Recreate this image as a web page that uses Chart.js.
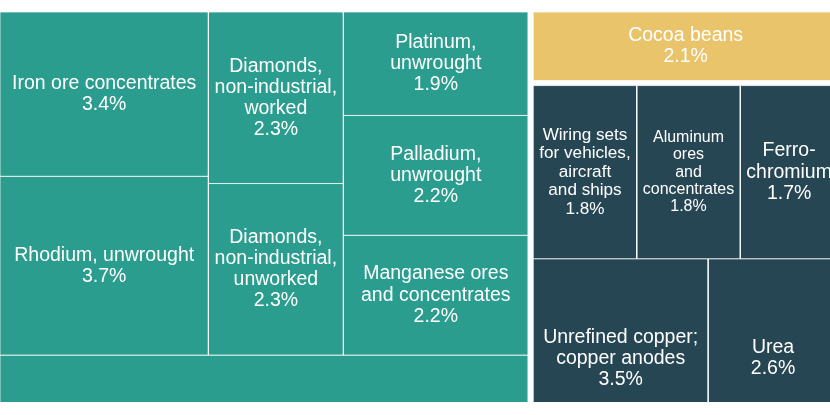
<!DOCTYPE html>
<html>
<head>
<meta charset="utf-8">
<script src="https://cdn.jsdelivr.net/npm/chart.js@4.4.0/dist/chart.umd.min.js"></script>
<style>
  html, body { margin: 0; padding: 0; background: #fff; }
  #wrap { width: 830px; height: 415px; }
</style>
</head>
<body>
<div id="wrap"><canvas id="treemap"></canvas></div>
<script>
// Treemap of export shares (%), drawn with filled scatter shapes
const products = [
  'Iron ore concentrates',
  'Rhodium, unwrought',
  'Diamonds,\nnon-industrial,\nworked',
  'Diamonds,\nnon-industrial,\nunworked',
  'Platinum,\nunwrought',
  'Palladium,\nunwrought',
  'Manganese ores\nand concentrates',
  '',   // bottom strip, its label falls outside the visible part
  'Cocoa beans',
  'Wiring sets\nfor vehicles,\naircraft\nand ships',
  'Aluminum\nores\nand\nconcentrates',
  'Ferro-\nchromium',
  'Unrefined copper;\ncopper anodes',
  'Urea'
];
const shares = [3.4, 3.7, 2.3, 2.3, 1.9, 2.2, 2.2, 5.4, 2.1, 1.8, 1.8, 1.7, 3.5, 2.6];
const sectorOf = [0, 0, 0, 0, 0, 0, 0, 0, 1, 2, 2, 2, 2, 2];
const sectorColors = ['#2a9d8f', '#e9c46a', '#264653'];

// nesting of the cells (indexes into products)
const mineralColumns = [[0, 1], [2, 3], [4, 5, 6]];
const mineralStrip = 7;
const cocoa = 8;
const otherRows = [[9, 10, 11], [12, 13]];

// full treemap size and the part of it that is shown
const TREE_W = 838, TREE_H = 446, GAP = 5;
const VIEW_X = [0, 830], VIEW_Y = [0, 390];

const sum = idx => idx.reduce((a, i) => a + shares[i], 0);

// cut a box along x or y in proportion to totals
function split(box, totals, horizontal, gap = 0) {
  const total = totals.reduce((a, b) => a + b, 0);
  const len = (horizontal ? box.w : box.h) - gap * (totals.length - 1);
  let pos = horizontal ? box.x : box.y;
  return totals.map(t => {
    const size = len * t / total;
    const b = horizontal
      ? {x: pos, y: box.y, w: size, h: box.h}
      : {x: box.x, y: pos, w: box.w, h: size};
    pos += size + gap;
    return b;
  });
}

const rects = [];
const colsTotal = sum(mineralColumns.flat());
const darkTotal = sum(otherRows.flat());

const [mineralBox, rightBox] = split({x: 0, y: 0, w: TREE_W, h: TREE_H},
  [colsTotal + shares[mineralStrip], shares[cocoa] + darkTotal], true, GAP);

const [colsBox, stripBox] = split(mineralBox, [colsTotal, shares[mineralStrip]], false);
split(colsBox, mineralColumns.map(sum), true).forEach((colBox, c) => {
  split(colBox, mineralColumns[c].map(i => shares[i]), false)
    .forEach((b, k) => { rects[mineralColumns[c][k]] = b; });
});
rects[mineralStrip] = stripBox;

const [cocoaBox, darkBox] = split(rightBox, [shares[cocoa], darkTotal], false, GAP);
rects[cocoa] = cocoaBox;
split(darkBox, otherRows.map(sum), false).forEach((rowBox, r) => {
  split(rowBox, otherRows[r].map(i => shares[i]), true)
    .forEach((b, k) => { rects[otherRows[r][k]] = b; });
});

const datasets = products.map((name, i) => {
  const r = rects[i];
  return {
    label: name.replace(/\n/g, ' ') || 'Other',
    data: [
      {x: r.x, y: r.y}, {x: r.x + r.w, y: r.y},
      {x: r.x + r.w, y: r.y + r.h}, {x: r.x, y: r.y + r.h},
      {x: r.x, y: r.y}
    ],
    showLine: true,
    fill: 'shape',
    backgroundColor: sectorColors[sectorOf[i]],
    borderColor: 'rgba(255,255,255,0.75)',
    borderWidth: 1,
    pointRadius: 0,
    pointHoverRadius: 0,
    tension: 0
  };
});

// names and shares written in the middle of each cell
const cellLabels = {
  id: 'cellLabels',
  afterDatasetsDraw(chart) {
    const {ctx, chartArea, scales: {x, y}} = chart;
    ctx.save();
    ctx.beginPath();
    ctx.rect(chartArea.left, chartArea.top, chartArea.right - chartArea.left, chartArea.bottom - chartArea.top);
    ctx.clip();
    ctx.fillStyle = '#ffffff';
    ctx.textAlign = 'center';
    ctx.textBaseline = 'middle';
    products.forEach((name, i) => {
      if (!name) return;
      const r = rects[i];
      const left = x.getPixelForValue(r.x), right = x.getPixelForValue(r.x + r.w);
      const top = y.getPixelForValue(r.y), bottom = y.getPixelForValue(r.y + r.h);
      const lines = name.split('\n').concat(shares[i].toFixed(1) + '%');
      let size = 19.5;
      ctx.font = size + 'px Arial, "Liberation Sans", sans-serif';
      const widest = Math.max(...lines.map(l => ctx.measureText(l).width));
      const room = (right - left) - 12;
      if (widest > room) size = size * room / widest;
      ctx.font = size + 'px Arial, "Liberation Sans", sans-serif';
      const lh = size * 1.08;
      const cx = (left + right) / 2, cy = (top + bottom) / 2;
      lines.forEach((l, k) => {
        ctx.fillText(l, cx, cy + (k - (lines.length - 1) / 2) * lh);
      });
    });
    ctx.restore();
  }
};

new Chart(document.getElementById('treemap'), {
  type: 'scatter',
  data: { datasets: datasets },
  options: {
    responsive: true,
    maintainAspectRatio: false,
    animation: false,
    events: [],
    layout: { padding: { top: 12, bottom: 13, left: 0, right: 0 } },
    scales: {
      x: { type: 'linear', min: VIEW_X[0], max: VIEW_X[1], display: false },
      y: { type: 'linear', min: VIEW_Y[0], max: VIEW_Y[1], reverse: true, display: false }
    },
    plugins: {
      legend: { display: false },
      tooltip: { enabled: false }
    }
  },
  plugins: [cellLabels]
});
</script>
</body>
</html>
